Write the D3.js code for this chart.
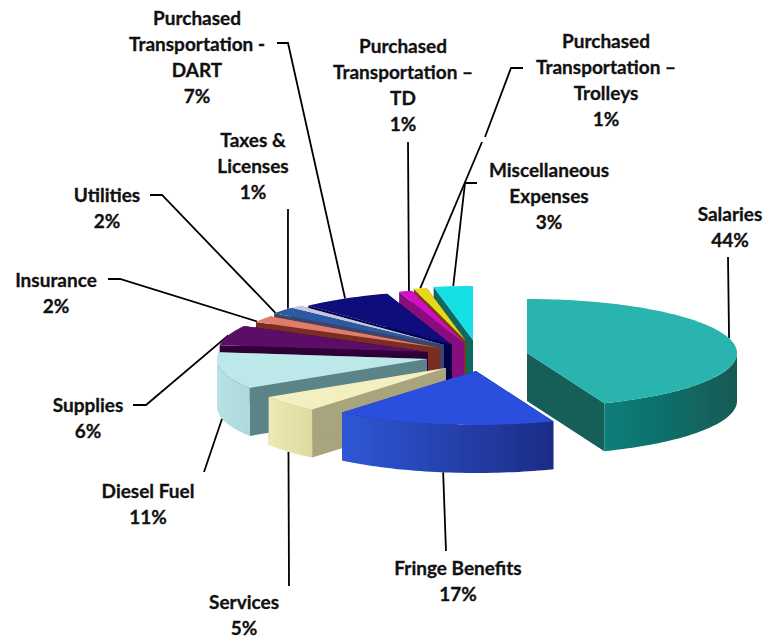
<!DOCTYPE html>
<html>
<head>
<meta charset="utf-8">
<script src="https://cdn.jsdelivr.net/npm/d3@7"></script>
<style>
  html, body { margin: 0; padding: 0; background: #fff; }
  svg { display: block; }
  text { font-family: Lato, "Open Sans", sans-serif; font-weight: 700; font-size: 19px; fill: #111; stroke: #111; stroke-width: 0.3px; }
</style>
</head>
<body>
<div id="chart"></div>
<script>
// --- Data
const categories = ["Salaries", "Fringe Benefits", "Services", "Diesel Fuel", "Supplies", "Insurance", "Utilities",
  "Taxes & Licenses", "Purchased Transportation - DART", "Purchased Transportation – TD",
  "Purchased Transportation – Trolleys", "Miscellaneous Expenses"];
const shares = [44, 17, 5, 11, 6, 2, 2, 1, 7, 1, 1, 3];

// label wrapping, same order as categories
const labelLines = [
  ["Salaries"], ["Fringe Benefits"], ["Services"], ["Diesel Fuel"], ["Supplies"], ["Insurance"], ["Utilities"],
  ["Taxes &", "Licenses"], ["Purchased", "Transportation -", "DART"], ["Purchased", "Transportation –", "TD"],
  ["Purchased", "Transportation –", "Trolleys"], ["Miscellaneous", "Expenses"]
];

// --- Colours per slice
const topColors = ["#2ab4b0", "#2b4fdc", "#f4efc0", "#bce8ea", "#5c0a68", "#e27c6c", "#2a5aa6", "#c4c8dc", "#08087c", "#d20cc4", "#e8d816", "#16dfe6"];
const wallFrom = ["#0f7f7a", "#2f57d6", "#ece9b6", "#b6e2e4", "#3a0044", "#b05040", "#1c3c78", "#8a8ea8", "#040450", "#8a0880", "#a09810", "#0c8a90"];
const wallTo = ["#135a54", "#1c2c86", "#dedaa0", "#aed8da", "#3a0044", "#b05040", "#1c3c78", "#8a8ea8", "#040450", "#8a0880", "#a09810", "#0c8a90"];
const cutColors = ["#125e58", "#1c2c86", "#a8a47e", "#5a8488", "#2e0036", "#7a2e24", "#3a4468", "#6a6e88", "#04044c", "#88087e", "#7a3a18", "#0e6a60"];

// --- Layout
const W = 768, H = 639;
const cx = 475, cy = 355;      // pie centre before the slices are pulled out
const rx = 210, ry = 54;       // ellipse of the tilted pie
const depth = 48;
const lineH = 26;

// how far each slice is pulled out of the pie
const pullX = [52, 1, -29, -48, -47, -35, -31, -31, -23, -11, -9, -2];
const pullY = [-2, 16, 13, 4, -3, -7, -10, -10, -10, -12, -14, -15];
// small shift of the leader end along the rim, degrees
const leaderNudge = [-5, 0, 0, 0, 0, -3, -3, -3, 0, 1, 0, 0];

// label centre x, first baseline y
const labelPos = [[730, 221], [458, 575], [244, 609], [148, 498], [88, 412], [56, 287], [107, 202],
  [253, 147], [197, 25], [403, 53], [606, 48], [549, 177]];
// leader start points, the last point is found on the slice rim
const leaderPts = [
  [[728, 257]], [[446, 551]], [[289, 586]], [[204, 472]], [[133, 405], [146, 405]], [[108, 279], [120, 279]],
  [[150, 195], [162, 195]], [[288, 209]], [[277, 43], [288, 43]], [[408, 142]],
  [[482, 142]], [[477, 183], [465, 183]]
];
const extraLeader = [[523, 68], [511, 68], [485, 137]]; // upper piece of the Trolleys leader, it has a small gap

const svg = d3.select("#chart").append("svg").attr("width", W).attr("height", H);
const defs = svg.append("defs");
defs.append("filter").attr("id", "soft").append("feGaussianBlur").attr("stdDeviation", 0.6);

const pie = d3.pie().sort(null).value(d => d);
const slices = pie(shares).map((s, i) => ({
  i, a0: s.startAngle, a1: s.endAngle,
  mid: (s.startAngle + s.endAngle) / 2,
  ox: cx + pullX[i],
  oy: cy + pullY[i]
}));

const pt = (s, a, z) => [s.ox + rx * Math.sin(a), s.oy - ry * Math.cos(a) + z];
const arcPts = (s, a0, a1, z) => {
  const n = Math.max(2, Math.ceil((a1 - a0) * 40));
  return d3.range(n + 1).map(k => pt(s, a0 + (a1 - a0) * k / n, z));
};
const poly = d3.line();

// --- Leaders (under the pie)
const gLead = svg.append("g").attr("fill", "none").attr("stroke", "#000").attr("stroke-width", 1.8);
slices.forEach(s => {
  const front = s.mid > Math.PI / 2 && s.mid < 3 * Math.PI / 2;
  const end = pt(s, s.mid + leaderNudge[s.i] * Math.PI / 180, front ? depth : 0);
  gLead.append("path").attr("d", poly([...leaderPts[s.i], end]));
});
gLead.append("path").attr("d", poly(extraLeader));

// --- Slices, back to front
const gPie = svg.append("g").attr("filter", "url(#soft)");
const order = slices.slice().sort((a, b) => Math.cos(b.mid) - Math.cos(a.mid));

order.forEach(s => {
  const g = gPie.append("g");
  const centreLow = [s.ox, s.oy + depth], centre = [s.ox, s.oy];

  // cut faces
  [s.a0, s.a1].forEach(a => {
    g.append("path")
      .attr("d", poly([centre, pt(s, a, 0), pt(s, a, depth), centreLow]) + "Z")
      .attr("fill", cutColors[s.i]);
  });

  // outer wall, only the front half of the ellipse can be seen
  const w0 = Math.max(s.a0, Math.PI / 2), w1 = Math.min(s.a1, 3 * Math.PI / 2);
  if (w1 > w0) {
    const gradId = "wall" + s.i;
    const grad = defs.append("linearGradient").attr("id", gradId);
    grad.append("stop").attr("offset", "0%").attr("stop-color", wallFrom[s.i]);
    grad.append("stop").attr("offset", "100%").attr("stop-color", wallTo[s.i]);
    g.append("path")
      .attr("d", poly([...arcPts(s, w0, w1, 0), ...arcPts(s, w0, w1, depth).reverse()]) + "Z")
      .attr("fill", `url(#${gradId})`);
  }

  // top
  g.append("path")
    .attr("d", poly([centre, ...arcPts(s, s.a0, s.a1, 0)]) + "Z")
    .attr("fill", topColors[s.i]);
});

// --- Labels
const gText = svg.append("g").attr("text-anchor", "middle");
categories.forEach((name, i) => {
  const lines = [...labelLines[i], shares[i] + "%"];
  const t = gText.append("text").attr("data-name", name);
  lines.forEach((ln, k) => {
    t.append("tspan").attr("x", labelPos[i][0]).attr("y", labelPos[i][1] + k * lineH).text(ln);
  });
});
</script>
</body>
</html>
